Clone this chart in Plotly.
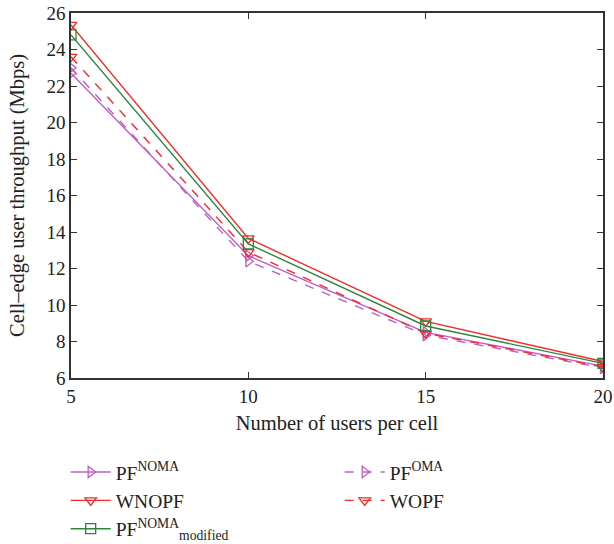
import plotly.graph_objects as go

users = [5, 10, 15, 20]
pf_noma = [22.7, 12.7, 8.5, 6.65]
pf_oma = [23.0, 12.4, 8.35, 6.55]
wnopf = [25.35, 13.65, 9.1, 6.9]
wopf = [23.6, 12.9, 8.45, 6.6]
pf_mod = [24.8, 13.35, 8.85, 6.8]

PINK = "#c060c0"
RED = "#f52a2a"
GREEN = "#2e8540"

fig = go.Figure()

def add(name, y, color, dash, symbol):
    fig.add_trace(go.Scatter(
        x=users, y=y, name=name, mode="lines+markers",
        line=dict(color=color, width=1.4, dash=dash),
        marker=dict(symbol=symbol, size=10, color=color, line=dict(color=color, width=1.3)),
    ))

add("PF<sup>NOMA</sup>", pf_noma, PINK, "solid", "triangle-right-open")
add("PF<sup>OMA</sup>", pf_oma, PINK, "dash", "triangle-right-open")
add("WNOPF", wnopf, RED, "solid", "triangle-down-open")
add("WOPF", wopf, RED, "dash", "triangle-down-open")
add("PF<sup>NOMA</sup><sub>modified</sub>", pf_mod, GREEN, "solid", "square-open")

font = "Liberation Serif, Times New Roman, serif"
axis_common = dict(
    showline=True, mirror="ticks", linecolor="#333333", linewidth=1.5,
    ticks="inside", ticklen=6, tickcolor="#333333",
    showgrid=False, zeroline=False, automargin=False,
    tickfont=dict(family=font, size=19, color="#222222"),
)

fig.update_layout(
    width=614, height=544,
    margin=dict(l=71, r=11, t=13, b=166, autoexpand=False),
    paper_bgcolor="white", plot_bgcolor="white",
    font=dict(family=font, color="#222222"),
    xaxis=dict(range=[5, 20], tickvals=[5, 10, 15, 20],
               title=dict(text="Number of users per cell", font=dict(family=font, size=20.5), standoff=10),
               **axis_common),
    yaxis=dict(range=[6, 26], tickvals=list(range(6, 27, 2)),
               title=dict(text="Cell–edge user throughput (Mbps)", font=dict(family=font, size=20.5), standoff=16),
               **axis_common),
    legend=dict(orientation="h", x=-0.01, y=-0.205, xanchor="left", yanchor="top",
                entrywidth=219, entrywidthmode="pixels",
                font=dict(family=font, size=19.5, color="#222222"),
                tracegroupgap=0, itemwidth=40, bgcolor="rgba(0,0,0,0)"),
    showlegend=True,
)

fig.write_html("out.html")
